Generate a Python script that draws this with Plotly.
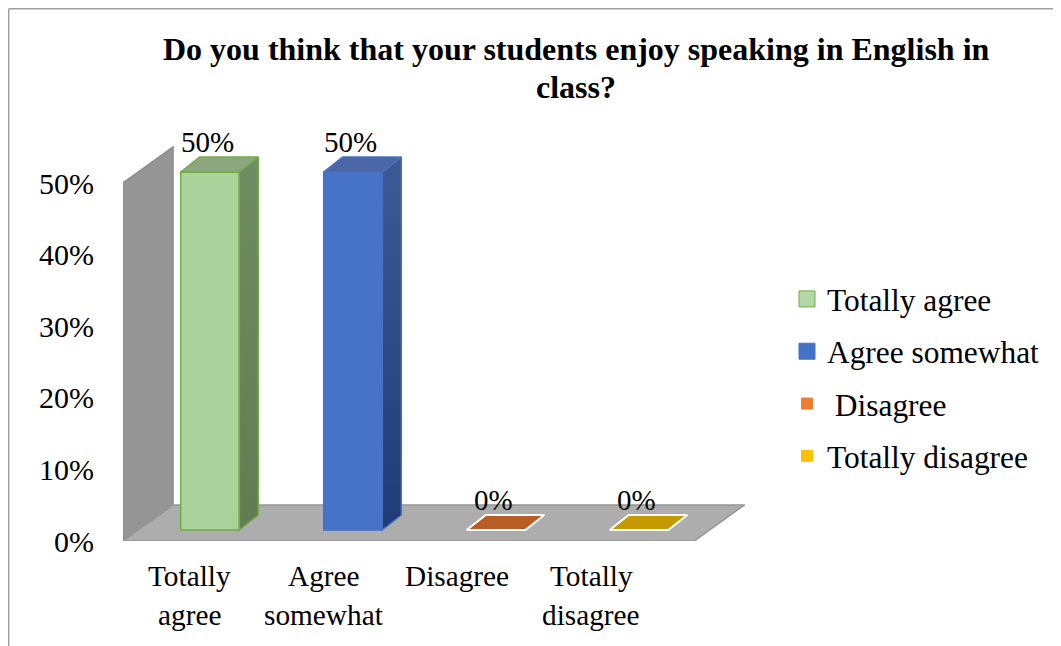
import plotly.graph_objects as go

# ---------------- data ----------------
categories = ["Totally agree", "Agree somewhat", "Disagree", "Totally disagree"]
values = [0.50, 0.50, 0.0, 0.0]
legend_names = ["Totally agree", "Agree somewhat", " Disagree", "Totally disagree"]
label_lines = [["Totally", "agree"], ["Agree", "somewhat"], ["Disagree"], ["Totally", "disagree"]]
y_ticks = [0.0, 0.1, 0.2, 0.3, 0.4, 0.5]
y_tick_labels = ["0%", "10%", "20%", "30%", "40%", "50%"]
title_lines = ["Do you think that your students enjoy speaking in English in", "class?"]

# ---------------- styles ----------------
front_colors = ["#ACD29B", "#4672C7", "#ED7D31", "#FFC000"]
legend_colors = ["#B4D7A6", "#4472C4", "#ED7D31", "#FFC000"]
legend_sizes = [16, 16, 11, 11]
side_top = ["#708C63", "#3D5A97", "#A4521F", "#B08A00"]
side_bot = ["#627C52", "#1F3C78", "#A4521F", "#B08A00"]
top_colors = ["#8CA67E", "#4A66A6", "#B95D25", "#C49A00"]
edge_colors = ["#70AD47", "#4472C4", "#FFFFFF", "#FFFFFF"]
FONT = "Liberation Serif"

# ---------------- geometry ----------------
OFF = 8                      # page body margin of the html page
W, H = 1061 - OFF, 646 - OFF
ML, MT = 123 - OFF, 110 - OFF
plot_w, plot_h = 622, 431
MR, MB = W - ML - plot_w, H - MT - plot_h
PX_X = 143.0          # pixels per category step
PX_Y = 716.0          # pixels per unit of share
x0 = -87 / PX_X
x_range = [x0, x0 + plot_w / PX_X]
y_range = [0, plot_h / PX_Y]

bw = 0.41                          # bar width
bdx, bdy = 19 / PX_X, 15 / PX_Y    # bar depth offset
base0 = 11 / PX_Y                  # bar base inside the floor depth
wdx, wdy = 50 / PX_X, 36 / PX_Y    # wall / floor depth
x_floor_right = x_range[1] - 0.005


def px2paper_x(px):
    return (px - OFF - ML) / plot_w


def px2paper_y(py):
    return (MT + plot_h - (py - OFF)) / plot_h


fig = go.Figure()

# wall and floor (decoration)
wall_top = max(y_ticks)
fig.add_shape(type="path", xref="x", yref="y", layer="below",
              path=f"M {x0},0 L {x0},{wall_top} L {x0+wdx},{wall_top+wdy} L {x0+wdx},{wdy} Z",
              fillcolor="#959595", line=dict(color="#8A8A8A", width=1.5))
fig.add_shape(type="path", xref="x", yref="y", layer="below",
              path=f"M {x0},0 L {x0+wdx},{wdy} L {x_floor_right},{wdy} L {x_floor_right-wdx},0 Z",
              fillcolor="#ADADAD", line=dict(color="#959595", width=1.5))

for i, (cat, v) in enumerate(zip(categories, values)):
    xl, xr = i - bw / 2, i + bw / 2
    top = base0 + v
    grp = f"g{i}"
    # front face (the bar itself)
    fig.add_trace(go.Bar(
        x=[i], y=[v], base=base0, width=bw, name=cat, legendgroup=grp, showlegend=False,
        marker=dict(color=front_colors[i], line=dict(color=edge_colors[i], width=1.5)),
        hoverinfo="skip"))
    # side face
    if v > 0:
        fig.add_trace(go.Scatter(
            x=[xr, xr + bdx, xr + bdx, xr, xr], y=[base0, base0 + bdy, top + bdy, top, base0],
            mode="lines", fill="toself",
            fillgradient=dict(type="vertical", start=base0, stop=top + bdy,
                              colorscale=[[0, side_bot[i]], [1, side_top[i]]]),
            line=dict(color=edge_colors[i], width=1.5), showlegend=False, legendgroup=grp,
            hoverinfo="skip"))
    # top face
    fig.add_trace(go.Scatter(
        x=[xl, xr, xr + bdx, xl + bdx, xl], y=[top, top, top + bdy, top + bdy, top],
        mode="lines", fill="toself", fillcolor=top_colors[i],
        line=dict(color=edge_colors[i], width=1.5 if v > 0 else 2), showlegend=False,
        legendgroup=grp, hoverinfo="skip"))
    # legend entry
    fig.add_trace(go.Scatter(
        x=[None], y=[None], mode="markers", name=legend_names[i], legendgroup=grp,
        marker=dict(symbol="square", size=legend_sizes[i], color=legend_colors[i],
                    line=dict(color=edge_colors[i] if v > 0 else legend_colors[i], width=1)),
        hoverinfo="skip"))
    # data label
    fig.add_annotation(x=i - 0.02, y=top + bdy, xref="x", yref="y", yshift=15,
                       text=f"{round(v * 100)}%", showarrow=False, yanchor="middle",
                       font=dict(family=FONT, size=29, color="#000000"))
    # category label (one annotation per line)
    lx = -0.14 + i * 0.935
    for k, line in enumerate(label_lines[i]):
        fig.add_annotation(x=lx, xref="x", y=px2paper_y(576 + 39 * k), yref="paper",
                           text=line, showarrow=False, yanchor="middle",
                           font=dict(family=FONT, size=29.3, color="#000000"))

# title (two centred lines)
for k, line in enumerate(title_lines):
    fig.add_annotation(x=px2paper_x(576), y=px2paper_y(49.5 + 38 * k), xref="paper", yref="paper",
                       text=line, showarrow=False, xanchor="center", yanchor="middle",
                       font=dict(family=FONT, size=32, color="#000000", weight="bold"))

# outer frame lines (top and left)
fig.add_shape(type="line", xref="paper", yref="paper",
              x0=px2paper_x(8.7), x1=px2paper_x(1061), y0=px2paper_y(8.7), y1=px2paper_y(8.7),
              line=dict(color="#A0A0A0", width=1.5))
fig.add_shape(type="line", xref="paper", yref="paper",
              x0=px2paper_x(8.7), x1=px2paper_x(8.7), y0=px2paper_y(8.7), y1=px2paper_y(646),
              line=dict(color="#A0A0A0", width=1.5))

fig.update_layout(
    width=W, height=H,
    margin=dict(l=ML, r=MR, t=MT, b=MB),
    paper_bgcolor="white", plot_bgcolor="rgba(0,0,0,0)",
    barmode="overlay",
    xaxis=dict(range=x_range, showgrid=False, zeroline=False, showline=False,
               showticklabels=False, ticks="", fixedrange=True),
    yaxis=dict(range=y_range, tickvals=y_ticks, ticktext=y_tick_labels,
               showgrid=False, zeroline=False, showline=False, ticks="",
               ticklabelstandoff=28,
               tickfont=dict(family=FONT, size=30, color="#000000"), fixedrange=True),
    legend=dict(x=px2paper_x(787), xanchor="left", y=px2paper_y(272), yanchor="top",
                traceorder="grouped", tracegroupgap=8.5, itemsizing="trace",
                font=dict(family=FONT, size=31.4, color="#000000"),
                bgcolor="rgba(0,0,0,0)"),
    showlegend=True,
)

fig.write_html("out.html")
